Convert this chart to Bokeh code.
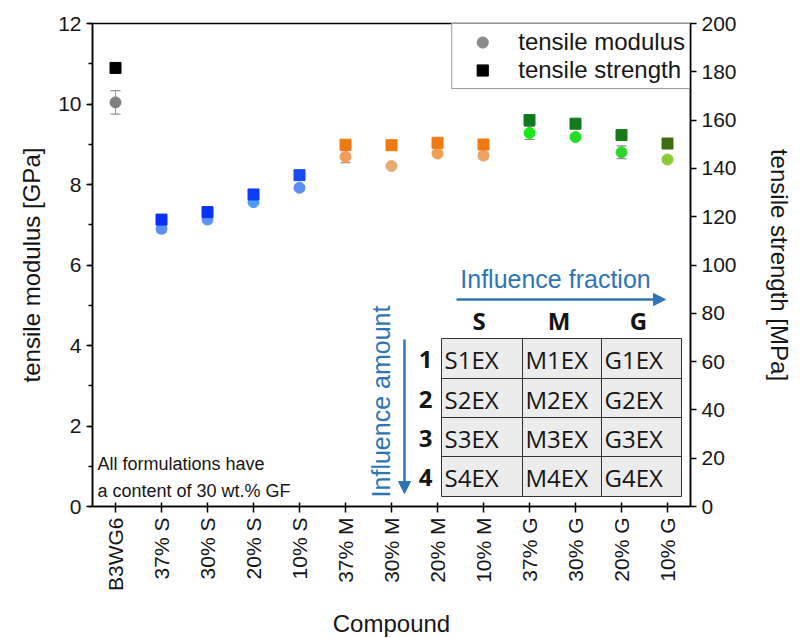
from bokeh.plotting import figure
from bokeh.models import (Range1d, LinearAxis, FixedTicker, SingleIntervalTicker, Whisker,
                          ColumnDataSource, Label, Arrow, NormalHead, Legend, LegendItem)
from bokeh.embed import file_html
from bokeh.resources import INLINE
import math

# ---------------- data ----------------
compounds = ["B3WG6", "37% S", "30% S", "20% S", "10% S", "37% M", "30% M", "20% M", "10% M",
             "37% G", "30% G", "20% G", "10% G"]
modulus = [10.04, 6.90, 7.13, 7.56, 7.92, 8.69, 8.46, 8.77, 8.72, 9.28, 9.18, 8.80, 8.62]
modulus_err = [0.29, 0.10, 0.06, 0.06, 0.06, 0.15, 0.05, 0.06, 0.08, 0.16, 0.07, 0.16, 0.06]
strength = [181.6, 118.8, 121.9, 129.2, 137.2, 149.8, 149.6, 150.6, 149.9, 160.0, 158.5, 153.8, 150.3]
strength_colors = ["#000000", "#0b2ff7", "#0b33f8", "#0f3cf6", "#1a4af2",
                   "#f07a12", "#f07a12", "#f07a12", "#f07a12",
                   "#0d7a1c", "#127a1a", "#1a7a1a", "#3c6e10"]
modulus_colors = ["#808080", "#5b8ef5", "#5a92f8", "#4c9cfc", "#5b8cf0",
                  "#f09c5a", "#e8aa70", "#f0a055", "#eea262",
                  "#12ec12", "#22dd22", "#2ed52e", "#88cc33"]

table_cols = ["S", "M", "G"]
table_rows = ["1", "2", "3", "4"]
table_cells = [["S1EX", "M1EX", "G1EX"],
               ["S2EX", "M2EX", "G2EX"],
               ["S3EX", "M3EX", "G3EX"],
               ["S4EX", "M4EX", "G4EX"]]
note_lines = ["All formulations have", "a content of 30 wt.% GF"]
right_axis_title = "tensile strength [MPa]"

# ---------------- figure ----------------
FONT = "Liberation Sans"
TFONT = "Open Sans"
BLUE = "#2e75b6"
TXT = "#161616"

x = list(range(len(compounds)))

p = figure(frame_width=598, frame_height=483, output_backend="svg", toolbar_location=None,
           x_range=Range1d(-0.5, len(compounds) - 0.5), y_range=Range1d(0, 12),
           min_border_left=92, min_border_top=23, min_border_right=108, min_border_bottom=128)
p.grid.visible = False
p.outline_line_color = "black"
p.outline_line_width = 1.5
p.outline_line_alpha = 1
p.background_fill_color = "white"
p.border_fill_color = "white"

p.extra_y_ranges = {"str": Range1d(0, 200)}

# axes
xa = p.xaxis[0]
xa.ticker = FixedTicker(ticks=x)
xa.major_label_overrides = {i: c for i, c in enumerate(compounds)}
xa.major_label_orientation = math.pi / 2
xa.axis_label = "Compound"

ya = p.yaxis[0]
ya.ticker = SingleIntervalTicker(interval=2, num_minor_ticks=2)
ya.axis_label = "tensile modulus [GPa]"

ra = LinearAxis(y_range_name="str", ticker=SingleIntervalTicker(interval=20, num_minor_ticks=0),
                axis_label=right_axis_title)
p.add_layout(ra, "right")

for ax in [xa, ya, ra]:
    ax.axis_line_color = "black"
    ax.axis_line_width = 1.5
    ax.major_tick_line_color = "black"
    ax.major_tick_line_width = 1.5
    ax.minor_tick_line_color = "black"
    ax.minor_tick_line_width = 1.5
    ax.major_tick_out = 6
    ax.major_tick_in = 0
    ax.minor_tick_out = 4
    ax.minor_tick_in = 0
    ax.major_label_text_font = FONT
    ax.major_label_text_font_size = "21px"
    ax.major_label_text_color = TXT
    ax.axis_label_text_font = FONT
    ax.axis_label_text_font_size = "24px"
    ax.axis_label_text_font_style = "normal"
    ax.axis_label_text_color = TXT
    ax.major_label_standoff = 5
xa.major_tick_in = 4
xa.axis_label_standoff = 16
ya.axis_label_standoff = 10
ra.axis_label_standoff = 26
try:
    ra.axis_label_orientation = "vertical"
except Exception:
    pass

# ---------------- marks ----------------
src = ColumnDataSource(dict(x=x, mod=modulus, lo=[m - e for m, e in zip(modulus, modulus_err)],
                            hi=[m + e for m, e in zip(modulus, modulus_err)], str=strength,
                            mc=modulus_colors, sc=strength_colors))

wh = Whisker(source=src, base="x", lower="lo", upper="hi", line_color="#777777", line_width=1,
             line_alpha=0.8)
wh.upper_head.size = 10
wh.lower_head.size = 10
wh.upper_head.line_color = "#777777"
wh.lower_head.line_color = "#777777"
p.add_layout(wh)

p.scatter("x", "mod", source=src, marker="circle", size=11, fill_color="mc", line_color="mc")
p.scatter("x", "str", source=src, marker="square", size=11, fill_color="sc", line_color="sc",
          y_range_name="str")

# legend with proxy renderers (placed outside the visible range)
r_mod = p.scatter([-5], [-5], marker="circle", size=8, fill_color="#8a8a8a", line_color="#8a8a8a")
r_str = p.scatter([-5], [-5], marker="square", size=8, fill_color="black", line_color="black")
leg = Legend(items=[LegendItem(label="tensile modulus", renderers=[r_mod]),
                    LegendItem(label="tensile strength", renderers=[r_str])],
             location="top_right", margin=0, padding=4, spacing=0,
             glyph_width=52, glyph_height=28, label_height=28, label_standoff=10,
             label_text_font=FONT, label_text_font_size="24px", label_text_color=TXT,
             border_line_color="#333333", border_line_width=1, background_fill_alpha=1)
p.add_layout(leg)

# ---------------- inset table & notes (layout in pixel positions) ----------------
def xd(px):
    return (px - 93) / 46.0 - 0.5

def yd(py):
    return (507 - py) / 483.0 * 12

col_px = [442, 523, 602, 682]
row_px = [339, 379, 418, 457, 497]
lefts, rights, tops, bottoms = [], [], [], []
for i in range(len(table_rows)):
    for j in range(len(table_cols)):
        lefts.append(xd(col_px[j])); rights.append(xd(col_px[j + 1]))
        tops.append(yd(row_px[i])); bottoms.append(yd(row_px[i + 1]))
p.quad(left=lefts, right=rights, top=tops, bottom=bottoms, fill_color="#ececec",
       line_color="#333333", line_width=1)

for i, row in enumerate(table_cells):
    cy = yd((row_px[i] + row_px[i + 1]) / 2 + 1)
    for j, cell in enumerate(row):
        p.add_layout(Label(x=xd(col_px[j] + 3), y=cy, text=cell, text_font=TFONT,
                           text_font_size="24px", text_baseline="middle", text_align="left",
                           text_color=TXT))
    p.add_layout(Label(x=xd(426), y=cy, text=table_rows[i], text_font=TFONT,
                       text_font_size="24px", text_font_style="bold", text_baseline="middle",
                       text_align="center", text_color=TXT))
for j, c in enumerate(table_cols):
    p.add_layout(Label(x=xd((col_px[j] + col_px[j + 1]) / 2 - 3), y=yd(321), text=c,
                       text_font=TFONT, text_font_size="24px", text_font_style="bold",
                       text_baseline="middle", text_align="center", text_color=TXT))

p.add_layout(Label(x=xd(556), y=yd(279), text="Influence fraction", text_font=FONT,
                   text_font_size="25px", text_baseline="middle", text_align="center",
                   text_color=BLUE))
p.add_layout(Arrow(x_start=xd(457), y_start=yd(300), x_end=xd(666), y_end=yd(300),
                   line_color=BLUE, line_width=2.5,
                   end=NormalHead(size=12, fill_color=BLUE, line_color=BLUE)))
p.add_layout(Label(x=xd(381), y=yd(402), text="Influence amount", text_font=FONT,
                   text_font_size="25px", text_baseline="middle", text_align="center",
                   angle=math.pi / 2, text_color=BLUE))
p.add_layout(Arrow(x_start=xd(405), y_start=yd(340), x_end=xd(405), y_end=yd(494),
                   line_color=BLUE, line_width=2.5,
                   end=NormalHead(size=12, fill_color=BLUE, line_color=BLUE)))

for k, line in enumerate(note_lines):
    p.add_layout(Label(x=xd(98), y=yd(464 + 27 * k), text=line, text_font=FONT,
                       text_font_size="18px", text_baseline="middle", text_align="left",
                       text_color=TXT))

open("out.html", "w").write(file_html(p, INLINE))
